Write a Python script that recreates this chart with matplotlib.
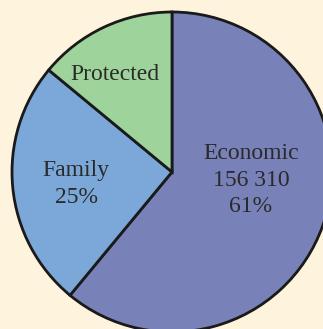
import matplotlib.pyplot as plt

# Daten
labels = ["Economic", "Family", "Protected"]
shares = [61, 25, 14]
economic_count = "156 310"
colors = ["#7881b8", "#7ba7d9", "#9ed49b"]
bg = "#fef3dd"

fig = plt.figure(figsize=(3.23, 3.29), dpi=100)
fig.patch.set_facecolor(bg)
ax = fig.add_axes([0, 0, 1, 1])
ax.set_facecolor(bg)

# Pixel-Koordinaten, Kreis unten/rechts abgeschnitten
cx, cy, r = 172, 329 - 172, 160
ax.pie(shares, colors=colors, startangle=90, counterclock=False,
       center=(cx, cy), radius=r, frame=True,
       wedgeprops=dict(edgecolor="#1a1a1a", linewidth=2.0))
ax.set_xlim(0, 323)
ax.set_ylim(0, 329)
ax.set_aspect("equal")
ax.axis("off")

font = dict(family="Liberation Serif", fontsize=17, color="#2a2a2a",
            ha="center", va="center", linespacing=1.32)
ax.text(251, 329 - 180, f"{labels[0]}\n{economic_count}\n{shares[0]}%", **font)
ax.text(76, 329 - 184, f"{labels[1]}\n{shares[1]}%", **font)
ax.text(115, 329 - 74, labels[2], **font)

fig.savefig("out.png", dpi=100, facecolor=bg)
